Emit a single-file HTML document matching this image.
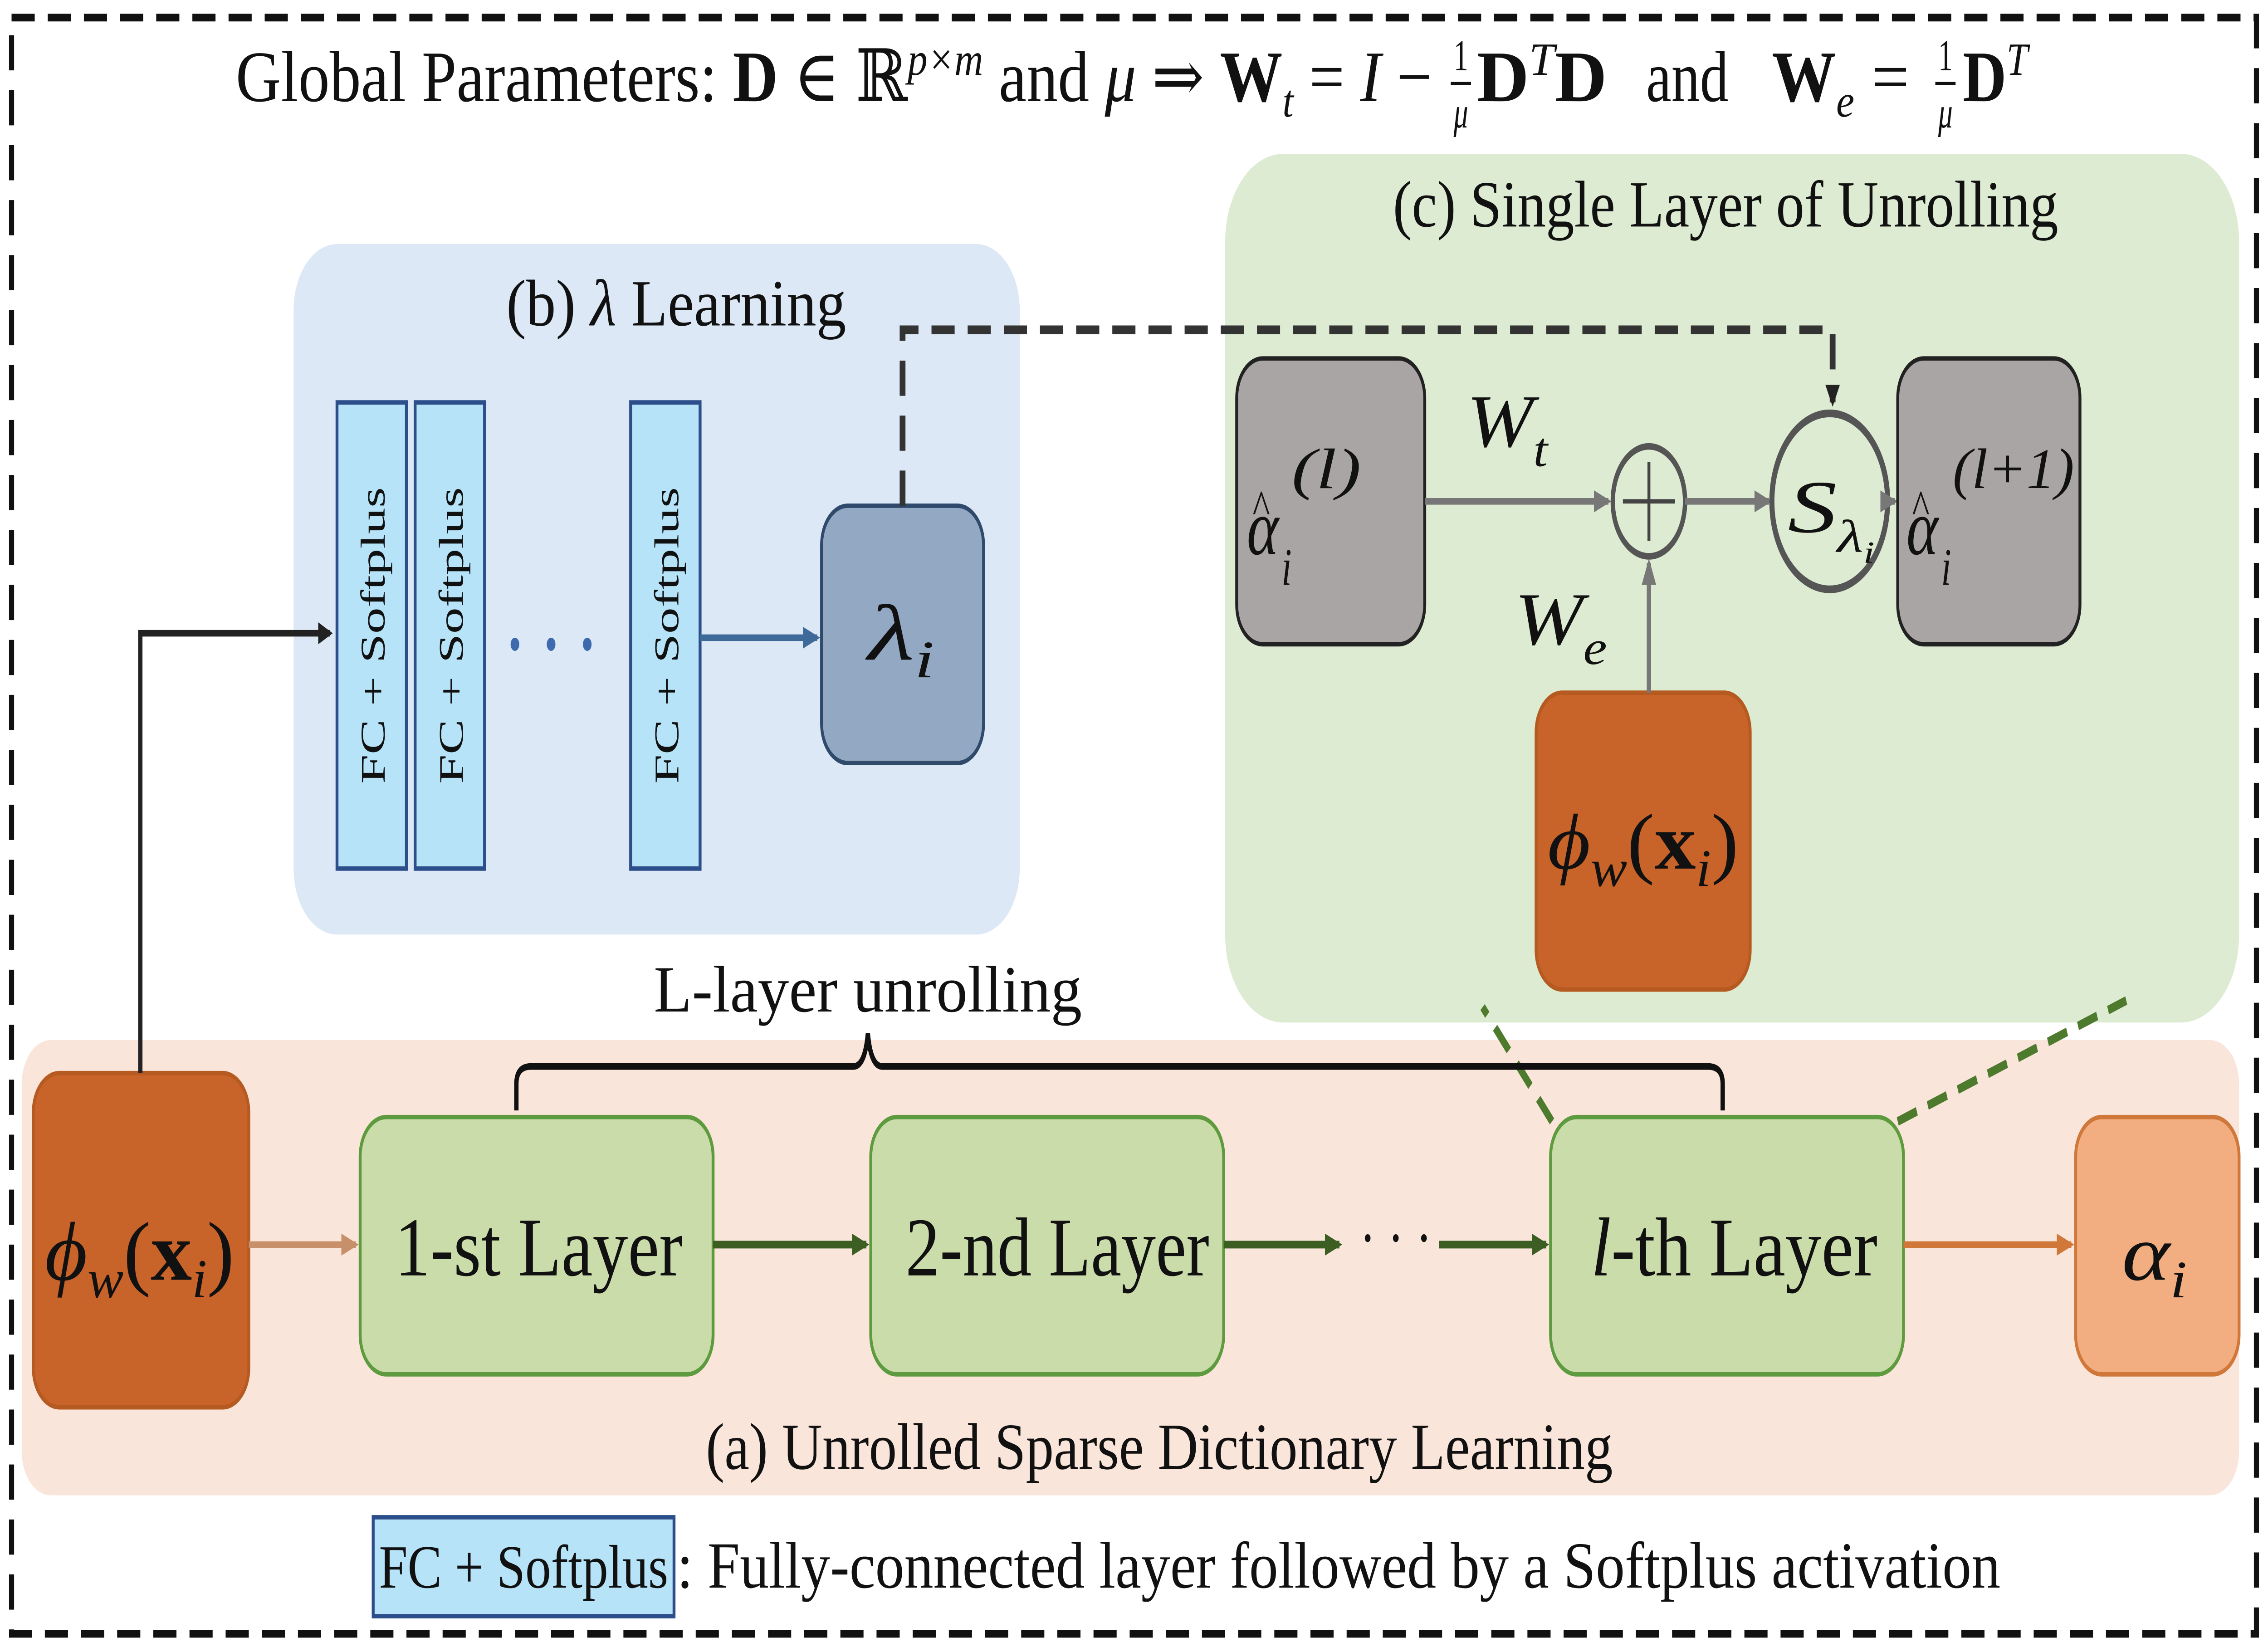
<!DOCTYPE html>
<html><head><meta charset="utf-8"><style>
html,body{margin:0;padding:0;background:#fff;width:100%;height:100%;overflow:hidden;}
svg{display:block;position:absolute;left:0;top:0;width:100vw;height:100vh;}
text{font-family:"Liberation Serif","DejaVu Serif",serif;fill:#111;}
.it{font-style:italic;}
.b{font-weight:bold;}
</style></head><body>
<svg viewBox="0 0 1568 749" preserveAspectRatio="none" xmlns="http://www.w3.org/2000/svg">
<defs>
<marker id="ak" markerWidth="10" markerHeight="10" refX="8" refY="5" orient="auto" markerUnits="userSpaceOnUse"><path d="M0,0 L10,5 L0,10 z" fill="#222"/></marker>
<marker id="ab" markerWidth="12" markerHeight="10" refX="10" refY="5" orient="auto" markerUnits="userSpaceOnUse"><path d="M0,0 L12,5 L0,10 z" fill="#3e6a99"/></marker>
<marker id="ag" markerWidth="12" markerHeight="10" refX="10" refY="5" orient="auto" markerUnits="userSpaceOnUse"><path d="M0,0 L12,5 L0,10 z" fill="#777"/></marker>
<marker id="adg" markerWidth="12" markerHeight="10" refX="10" refY="5" orient="auto" markerUnits="userSpaceOnUse"><path d="M0,0 L12,5 L0,10 z" fill="#3c5e23"/></marker>
<marker id="ao" markerWidth="12" markerHeight="10" refX="10" refY="5" orient="auto" markerUnits="userSpaceOnUse"><path d="M0,0 L12,5 L0,10 z" fill="#d0773a"/></marker>
<marker id="alo" markerWidth="12" markerHeight="10" refX="10" refY="5" orient="auto" markerUnits="userSpaceOnUse"><path d="M0,0 L12,5 L0,10 z" fill="#c8906a"/></marker>
</defs>
<rect x="0" y="0" width="1568" height="749" fill="#fff"/>
<rect x="8" y="8" width="1552" height="735" fill="none" stroke="#111" stroke-width="3.5" stroke-dasharray="16,9"/>

<!-- title -->
<text x="163" y="46" font-size="33" textLength="827" lengthAdjust="spacingAndGlyphs">Global Parameters: <tspan class="b">D</tspan> ∈ ℝ<tspan font-size="21" dy="-12" class="it">p×m</tspan><tspan dy="12"> and </tspan><tspan class="it">μ</tspan> ⇒ <tspan class="b">W</tspan><tspan font-size="21" dy="7" class="it">t</tspan><tspan dy="-7"> = </tspan><tspan class="it">I</tspan> −</text>
<text x="1010" y="32" font-size="20" text-anchor="middle">1</text>
<line x1="1003" y1="38" x2="1017" y2="38" stroke="#111" stroke-width="1.5"/>
<text x="1010" y="58" font-size="20" text-anchor="middle" class="it">μ</text>
<text x="1021" y="46" font-size="33" textLength="90" lengthAdjust="spacingAndGlyphs"><tspan class="b">D</tspan><tspan font-size="21" dy="-12" class="it">T</tspan><tspan dy="12" class="b">D</tspan></text>
<text x="1138" y="46" font-size="33" textLength="57" lengthAdjust="spacingAndGlyphs">and</text>
<text x="1225" y="46" font-size="33" textLength="57" lengthAdjust="spacingAndGlyphs"><tspan class="b">W</tspan><tspan font-size="21" dy="7" class="it">e</tspan></text>
<text x="1294" y="46" font-size="33" textLength="26" lengthAdjust="spacingAndGlyphs">=</text>
<text x="1345" y="32" font-size="20" text-anchor="middle">1</text>
<line x1="1338" y1="38" x2="1352" y2="38" stroke="#111" stroke-width="1.5"/>
<text x="1345" y="58" font-size="20" text-anchor="middle" class="it">μ</text>
<text x="1357" y="46" font-size="33" textLength="45" lengthAdjust="spacingAndGlyphs"><tspan class="b">D</tspan><tspan font-size="21" dy="-12" class="it">T</tspan></text>

<!-- (b) -->
<rect x="203" y="111" width="502" height="314" rx="30" fill="#dce8f5"/>
<text x="350" y="148" font-size="30" textLength="235" lengthAdjust="spacingAndGlyphs">(b) <tspan class="it">λ</tspan> Learning</text>
<g font-size="24">
<rect x="233" y="183" width="48" height="212" fill="#b6e3f7" stroke="#2c4e8a" stroke-width="2"/>
<text transform="translate(266,289) rotate(-90)" text-anchor="middle">FC + Softplus</text>
<rect x="287" y="183" width="48" height="212" fill="#b6e3f7" stroke="#2c4e8a" stroke-width="2"/>
<text transform="translate(320,289) rotate(-90)" text-anchor="middle">FC + Softplus</text>
<rect x="436" y="183" width="48" height="212" fill="#b6e3f7" stroke="#2c4e8a" stroke-width="2"/>
<text transform="translate(469,289) rotate(-90)" text-anchor="middle">FC + Softplus</text>
</g>
<circle cx="356" cy="293" r="3" fill="#3e6ab0"/><circle cx="381" cy="293" r="3" fill="#3e6ab0"/><circle cx="406" cy="293" r="3" fill="#3e6ab0"/>
<line x1="484" y1="290" x2="565" y2="290" stroke="#3e6a99" stroke-width="3" marker-end="url(#ab)"/>
<rect x="568" y="230" width="112" height="117" rx="18" fill="#93a9c3" stroke="#2f4a6b" stroke-width="2"/>
<text x="600" y="300" font-size="36" class="it" textLength="46" lengthAdjust="spacingAndGlyphs">λ<tspan font-size="24" dy="8">i</tspan></text>

<!-- (c) -->
<rect x="847" y="70" width="701" height="395" rx="40" fill="#dcebd1"/>
<path d="M624,230 L624,150 L1267,150 L1267,183" fill="none" stroke="#333" stroke-width="4" stroke-dasharray="16,9" marker-end="url(#ak)"/>
<text x="963" y="103" font-size="30" textLength="460" lengthAdjust="spacingAndGlyphs">(c) Single Layer of Unrolling</text>
<rect x="855" y="163" width="130" height="130" rx="18" fill="#aaa5a5" stroke="#222" stroke-width="2"/>
<text x="862" y="252" font-size="36" class="it" textLength="22" lengthAdjust="spacingAndGlyphs">α</text>
<text x="886" y="266" font-size="24" class="it" textLength="7" lengthAdjust="spacingAndGlyphs">i</text>
<text x="893" y="222" font-size="26" class="it" textLength="48" lengthAdjust="spacingAndGlyphs">(l)</text>
<text x="866" y="238" font-size="22" textLength="12" lengthAdjust="spacingAndGlyphs">^</text>
<line x1="985" y1="228" x2="1112" y2="228" stroke="#777" stroke-width="3" marker-end="url(#ag)"/>
<text x="1014" y="203" font-size="34" class="it" textLength="56" lengthAdjust="spacingAndGlyphs">W<tspan font-size="22" dy="9">t</tspan></text>
<circle cx="1140" cy="228" r="25" fill="none" stroke="#555" stroke-width="3"/>
<line x1="1140" y1="210" x2="1140" y2="246" stroke="#444" stroke-width="2"/>
<line x1="1122" y1="228" x2="1158" y2="228" stroke="#444" stroke-width="2"/>
<line x1="1165" y1="228" x2="1223" y2="228" stroke="#777" stroke-width="3" marker-end="url(#ag)"/>
<circle cx="1265" cy="228" r="40" fill="none" stroke="#555" stroke-width="3.5"/>
<text x="1236" y="242" font-size="34" class="it" textLength="60" lengthAdjust="spacingAndGlyphs">S<tspan font-size="21" dy="9">λ</tspan><tspan font-size="14" dy="5">i</tspan></text>
<line x1="1305" y1="228" x2="1310" y2="228" stroke="#777" stroke-width="3" marker-end="url(#ag)"/>
<rect x="1312" y="163" width="126" height="130" rx="18" fill="#aaa5a5" stroke="#222" stroke-width="2"/>
<text x="1318" y="252" font-size="36" class="it" textLength="22" lengthAdjust="spacingAndGlyphs">α</text>
<text x="1342" y="266" font-size="24" class="it" textLength="7" lengthAdjust="spacingAndGlyphs">i</text>
<text x="1350" y="222" font-size="26" class="it" textLength="84" lengthAdjust="spacingAndGlyphs">(l+1)</text>
<text x="1322" y="238" font-size="22" textLength="12" lengthAdjust="spacingAndGlyphs">^</text>
<rect x="1062" y="315" width="148" height="135" rx="18" fill="#c8632a" stroke="#b55a20" stroke-width="2"/>
<text x="1070" y="395" font-size="36" textLength="132" lengthAdjust="spacingAndGlyphs"><tspan class="it">ϕ</tspan><tspan font-size="24" dy="8" class="it">w</tspan><tspan dy="-8">(</tspan><tspan class="b">x</tspan><tspan font-size="24" dy="8" class="it">i</tspan><tspan dy="-8">)</tspan></text>
<line x1="1140" y1="315" x2="1140" y2="256" stroke="#777" stroke-width="3" marker-end="url(#ag)"/>
<text x="1047" y="293" font-size="34" class="it" textLength="64" lengthAdjust="spacingAndGlyphs">W<tspan font-size="22" dy="9">e</tspan></text>

<!-- (a) -->
<rect x="15" y="473" width="1533" height="207" rx="20" fill="#fae5da"/>
<line x1="1073" y1="510" x2="1025" y2="458" stroke="#4e7a2e" stroke-width="4" stroke-dasharray="14,8"/>
<line x1="1312" y1="510" x2="1470" y2="455" stroke="#4e7a2e" stroke-width="4" stroke-dasharray="14,8"/>
<rect x="23" y="488" width="149" height="152" rx="18" fill="#c8632a" stroke="#b55a20" stroke-width="2"/>
<text x="31" y="582" font-size="38" textLength="131" lengthAdjust="spacingAndGlyphs"><tspan class="it">ϕ</tspan><tspan font-size="25" dy="8" class="it">w</tspan><tspan dy="-8">(</tspan><tspan class="b">x</tspan><tspan font-size="25" dy="8" class="it">i</tspan><tspan dy="-8">)</tspan></text>
<path d="M97,488 L97,288 L228,288" fill="none" stroke="#222" stroke-width="3" marker-end="url(#ak)"/>
<line x1="172" y1="566" x2="246" y2="566" stroke="#c8906a" stroke-width="3" marker-end="url(#alo)"/>
<rect x="249" y="508" width="244" height="117" rx="18" fill="#cadcaa" stroke="#5e9a3e" stroke-width="2"/>
<text x="273" y="580" font-size="38" textLength="199" lengthAdjust="spacingAndGlyphs">1-st Layer</text>
<line x1="493" y1="566" x2="599" y2="566" stroke="#3c5e23" stroke-width="3.5" marker-end="url(#adg)"/>
<rect x="602" y="508" width="244" height="117" rx="18" fill="#cadcaa" stroke="#5e9a3e" stroke-width="2"/>
<text x="626" y="580" font-size="38" textLength="210" lengthAdjust="spacingAndGlyphs">2-nd Layer</text>
<line x1="846" y1="566" x2="926" y2="566" stroke="#3c5e23" stroke-width="3.5" marker-end="url(#adg)"/>
<text x="940" y="573" font-size="30" textLength="50" lengthAdjust="spacingAndGlyphs">· · ·</text>
<line x1="995" y1="566" x2="1069" y2="566" stroke="#3c5e23" stroke-width="3.5" marker-end="url(#adg)"/>
<rect x="1072" y="508" width="244" height="117" rx="18" fill="#cadcaa" stroke="#5e9a3e" stroke-width="2"/>
<text x="1100" y="580" font-size="38" textLength="198" lengthAdjust="spacingAndGlyphs"><tspan class="it">l</tspan>-th Layer</text>
<line x1="1316" y1="566" x2="1432" y2="566" stroke="#d0773a" stroke-width="3" marker-end="url(#ao)"/>
<rect x="1435" y="508" width="113" height="117" rx="18" fill="#f2ad80" stroke="#d0773a" stroke-width="2"/>
<text x="1467" y="582" font-size="36" class="it" textLength="45" lengthAdjust="spacingAndGlyphs">α<tspan font-size="24" dy="8">i</tspan></text>
<path d="M357,505 L357,493 Q357,485 367,485 L590,485 Q598,485 600,470 Q602,485 610,485 L1181,485 Q1191,485 1191,493 L1191,505" fill="none" stroke="#111" stroke-width="3"/>
<text x="452" y="460" font-size="30" textLength="296" lengthAdjust="spacingAndGlyphs">L-layer unrolling</text>
<text x="488" y="668" font-size="30" textLength="627" lengthAdjust="spacingAndGlyphs">(a) Unrolled Sparse Dictionary Learning</text>

<!-- legend -->
<rect x="258" y="690" width="208" height="45" fill="#b6e3f7" stroke="#2c4e8a" stroke-width="2"/>
<text x="262" y="722" font-size="28" textLength="200" lengthAdjust="spacingAndGlyphs">FC + Softplus</text>
<text x="468" y="722" font-size="30" textLength="915" lengthAdjust="spacingAndGlyphs">: Fully-connected layer followed by a Softplus activation</text>
</svg>
</body></html>
